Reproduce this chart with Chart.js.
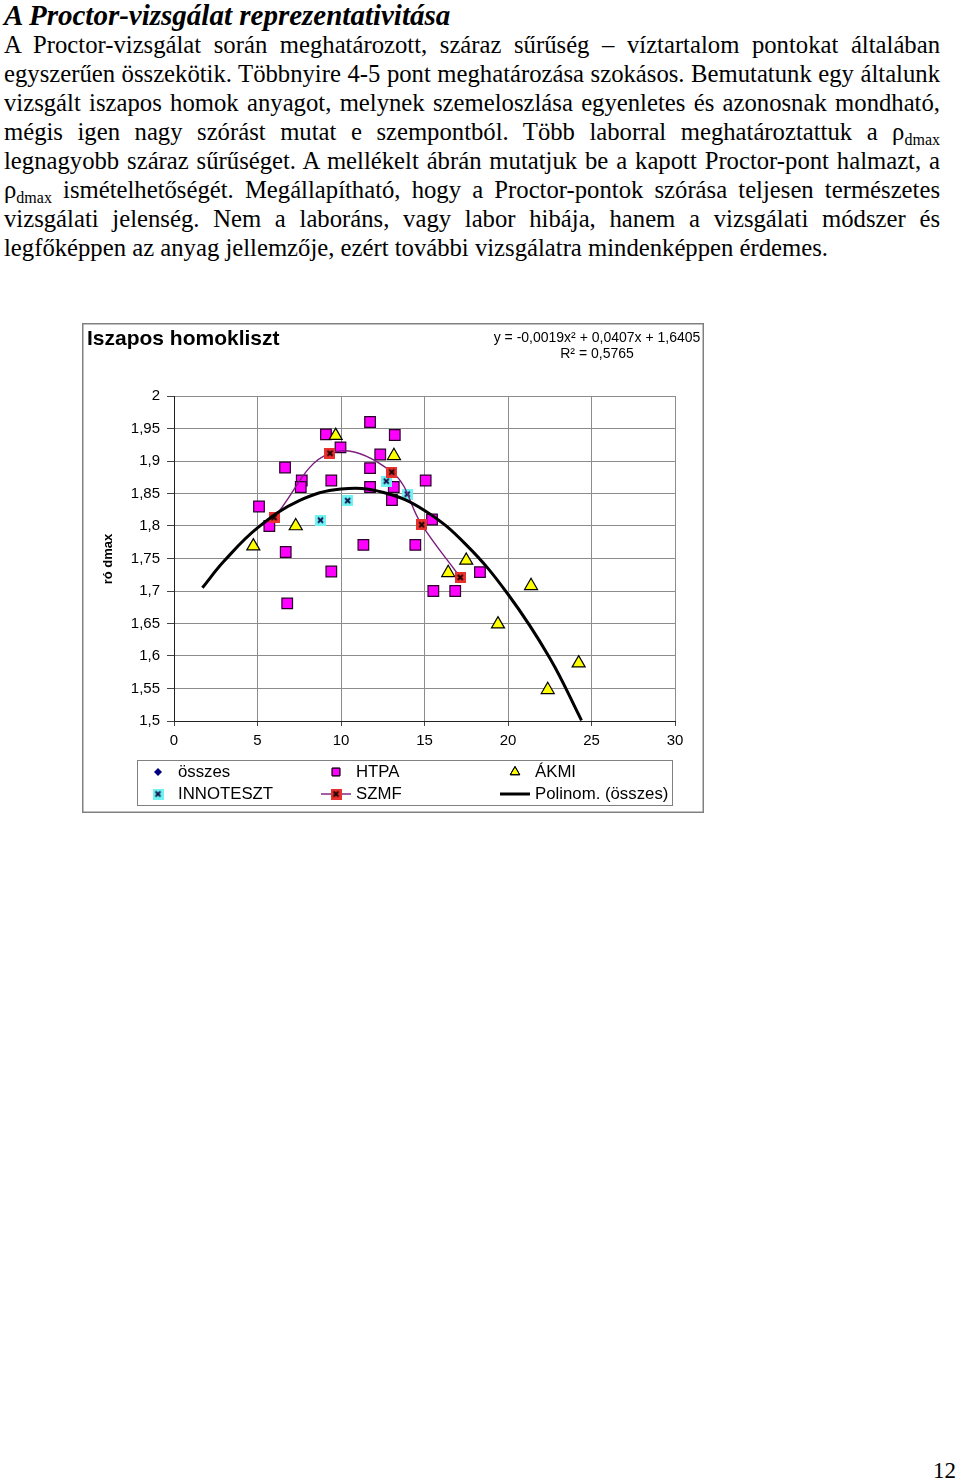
<!DOCTYPE html>
<html>
<head>
<meta charset="utf-8">
<script src="https://cdn.jsdelivr.net/npm/chart.js@4"></script>
<style>
  body { margin: 0; width: 960px; height: 1480px; position: relative; background: #fff; overflow: hidden;
         font-family: "Liberation Serif", "Times New Roman", serif; color: #000; }
  .head { position: absolute; left: 4px; top: 1px; font: italic bold 29px/28px "Liberation Serif", serif; white-space: nowrap; }
  .para { position: absolute; left: 4px; top: 30px; width: 936px; font-size: 24.7px; line-height: 29px; }
  .para div { height: 29px; text-align: justify; text-align-last: justify; white-space: nowrap; }
  .para div.last { text-align-last: left; }
  .sub { font-size: 16px; line-height: 0; position: relative; top: 5px; }
  #box { position: absolute; left: 82px; top: 323px; }
  .page { position: absolute; left: 933px; top: 1456px; font-size: 23px; line-height: 29px; }
</style>
</head>
<body>
<div class="head">A Proctor-vizsgálat reprezentativitása</div>
<div class="para">
  <div>A Proctor-vizsgálat során meghatározott, száraz sűrűség – víztartalom pontokat általában</div>
  <div>egyszerűen összekötik. Többnyire 4-5 pont meghatározása szokásos. Bemutatunk egy általunk</div>
  <div>vizsgált iszapos homok anyagot, melynek szemeloszlása egyenletes és azonosnak mondható,</div>
  <div>mégis igen nagy szórást mutat e szempontból. Több laborral meghatároztattuk a ρ<span class="sub">dmax</span></div>
  <div>legnagyobb száraz sűrűséget. A mellékelt ábrán mutatjuk be a kapott Proctor-pont halmazt, a</div>
  <div>ρ<span class="sub">dmax</span> ismételhetőségét. Megállapítható, hogy a Proctor-pontok szórása teljesen természetes</div>
  <div>vizsgálati jelenség. Nem a laboráns, vagy labor hibája, hanem a vizsgálati módszer és</div>
  <div class="last">legfőképpen az anyag jellemzője, ezért további vizsgálatra mindenképpen érdemes.</div>
</div>
<canvas id="box" width="622" height="490"></canvas>
<div class="page">12</div>

<script>
// tick labels
var xTickLabels = ['0', '5', '10', '15', '20', '25', '30'];
var yTickLabels = ['1,5', '1,55', '1,6', '1,65', '1,7', '1,75', '1,8', '1,85', '1,9', '1,95', '2'];

// HTPA (magenta squares)
var htpaX = [11.74, 9.10, 13.22, 9.97, 12.35, 6.65, 11.74, 7.65, 7.59, 9.42, 15.07, 11.74, 13.16,
             13.05, 5.09, 15.45, 5.71, 11.34, 14.45, 6.69, 18.32, 9.42, 15.53, 16.84, 6.78];
var htpaY = [1.960, 1.941, 1.940, 1.921, 1.910, 1.890, 1.889, 1.870, 1.860, 1.870, 1.870, 1.860, 1.860,
             1.840, 1.830, 1.810, 1.800, 1.771, 1.771, 1.760, 1.729, 1.730, 1.700, 1.700, 1.681];

// ÁKMI (yellow triangles)
var akmiX = [9.68, 13.17, 7.29, 4.75, 17.50, 16.42, 21.38, 19.40, 24.23, 22.38];
var akmiY = [1.939, 1.908, 1.800, 1.769, 1.747, 1.728, 1.708, 1.649, 1.589, 1.548];

// INNOTESZT (cyan)
var innoX = [8.77, 10.40, 12.71, 13.97];
var innoY = [1.809, 1.839, 1.869, 1.849];

// SZMF (red, connected)
var szmfX = [5.99, 9.34, 13.04, 14.83, 17.14];
var szmfY = [1.813, 1.912, 1.883, 1.802, 1.721];

// Polinom. (összes) trendline
var trendX = [1.7, 3, 5, 7.5, 10, 12.5, 15, 17.5, 20, 22.5, 24.4];
var trendY = [1.705, 1.746, 1.797, 1.839, 1.857, 1.852, 1.824, 1.771, 1.695, 1.597, 1.501];

// összes: all points, drawn underneath the lab series (not visible in the picture)
var osszesX = [];
var osszesY = [];

function pts(xs, ys) {
  return xs.map(function(x, i) { return { x: x, y: ys[i] }; });
}

function boxMarker(fill, stroke, cross, size) {
  var c = document.createElement('canvas');
  c.width = size; c.height = size;
  var g = c.getContext('2d');
  g.fillStyle = fill;
  g.fillRect(0, 0, size, size);
  if (stroke) { g.strokeStyle = stroke; g.lineWidth = 1; g.strokeRect(0.5, 0.5, size - 1, size - 1); }
  if (cross) {
    g.strokeStyle = cross; g.lineWidth = 1.8;
    g.beginPath();
    g.moveTo(3, 3); g.lineTo(size - 3, size - 3);
    g.moveTo(size - 3, 3); g.lineTo(3, size - 3);
    g.stroke();
  }
  return c;
}

var szmfMarker = boxMarker('#e8312f', null, '#1a0000', 11);
var innoMarker = boxMarker('#6ff3f3', null, '#10104a', 11);

// titles, equation, legend and frame
var decorPlugin = {
  id: 'decor',
  afterDraw: function(chart) {
    var c = chart.ctx;
    c.save();
    c.strokeStyle = '#808080';
    c.lineWidth = 1.5;
    c.strokeRect(0.75, 0.75, chart.width - 1.5, chart.height - 1.5);

    c.fillStyle = '#000';
    c.textBaseline = 'middle';
    c.textAlign = 'left';
    c.font = 'bold 21px "Liberation Sans", Arial, sans-serif';
    c.fillText('Iszapos homokliszt', 5, 16);

    c.textAlign = 'center';
    c.font = '14px "Liberation Sans", Arial, sans-serif';
    c.fillText('y = -0,0019x² + 0,0407x + 1,6405', 515, 15);
    c.fillText('R² = 0,5765', 515, 31);

    c.save();
    c.translate(26, 236);
    c.rotate(-Math.PI / 2);
    c.font = 'bold 13px "Liberation Sans", Arial, sans-serif';
    c.fillText('ró dmax', 0, 0);
    c.restore();

    // legend
    c.strokeStyle = '#808080';
    c.lineWidth = 1;
    c.strokeRect(55.5, 437.5, 535, 45);
    c.textAlign = 'left';
    c.font = '16.8px "Liberation Sans", Arial, sans-serif';
    var cols = [76, 254, 433], rows = [449, 471];
    var items = [
      { text: 'összes', ds: 5, col: 0, row: 0 },
      { text: 'HTPA', ds: 1, col: 1, row: 0 },
      { text: 'ÁKMI', ds: 2, col: 2, row: 0 },
      { text: 'INNOTESZT', ds: 3, col: 0, row: 1 },
      { text: 'SZMF', ds: 4, col: 1, row: 1 },
      { text: 'Polinom. (összes)', ds: 0, col: 2, row: 1 }
    ];
    items.forEach(function(it) {
      var ds = chart.data.datasets[it.ds];
      var x = cols[it.col], y = rows[it.row];
      if (ds.showLine) {
        c.strokeStyle = ds.borderColor;
        c.lineWidth = ds.borderWidth;
        c.beginPath(); c.moveTo(x - 15, y); c.lineTo(x + 15, y); c.stroke();
      }
      if (ds.pointRadius > 0) {
        c.fillStyle = ds.pointBackgroundColor || ds.backgroundColor;
        c.strokeStyle = ds.pointBorderColor || ds.borderColor;
        Chart.helpers.drawPoint(c, {
          pointStyle: ds.pointStyle,
          radius: it.ds === 5 ? 4 : 5.5,
          rotation: 0,
          borderWidth: ds.pointBorderWidth || 0
        }, x, y);
        if (ds.pointBorderWidth) c.stroke();
      }
      c.fillStyle = '#000';
      c.fillText(it.text, x + 20, y);
    });
    c.restore();
  }
};

var ctx = document.getElementById('box').getContext('2d');
var proctorChart = new Chart(ctx, {
  type: 'scatter',
  data: {
    datasets: [
      {
        label: 'Polinom. (összes)',
        data: pts(trendX, trendY),
        showLine: true, tension: 0.4,
        borderColor: '#000', borderWidth: 3,
        pointRadius: 0, order: 0
      },
      {
        label: 'HTPA',
        data: pts(htpaX, htpaY),
        pointStyle: 'rect', pointRadius: 7.5,
        pointBackgroundColor: '#ff00ff', backgroundColor: '#ff00ff',
        pointBorderColor: '#2a002a', borderColor: '#2a002a', pointBorderWidth: 1.2,
        order: 4
      },
      {
        label: 'ÁKMI',
        data: pts(akmiX, akmiY),
        pointStyle: 'triangle', pointRadius: 7.5,
        pointBackgroundColor: '#ffff00', backgroundColor: '#ffff00',
        pointBorderColor: '#000', borderColor: '#000', pointBorderWidth: 1.2,
        order: 3
      },
      {
        label: 'INNOTESZT',
        data: pts(innoX, innoY),
        pointStyle: innoMarker, pointRadius: 6,
        order: 2
      },
      {
        label: 'SZMF',
        data: pts(szmfX, szmfY),
        showLine: true, tension: 0.4,
        borderColor: '#7d1b7d', borderWidth: 1.4,
        pointStyle: szmfMarker, pointRadius: 6,
        order: 1
      },
      {
        label: 'összes',
        data: pts(osszesX, osszesY),
        pointStyle: 'rectRot', pointRadius: 4,
        pointBackgroundColor: '#000080', backgroundColor: '#000080',
        pointBorderColor: '#000080', borderColor: '#000080',
        order: 5
      }
    ]
  },
  options: {
    responsive: false,
    animation: false,
    layout: { padding: { top: 73, right: 29, left: 0, bottom: 0 } },
    plugins: { legend: { display: false }, tooltip: { enabled: false }, title: { display: false } },
    scales: {
      x: {
        type: 'linear', min: 0, max: 30,
        ticks: {
          stepSize: 5, padding: 6, maxRotation: 0, color: '#000',
          font: { family: '"Liberation Sans", Arial, sans-serif', size: 15 },
          callback: function(v, i) { return xTickLabels[i]; }
        },
        grid: { color: '#8c8c8c', tickLength: 5, tickColor: '#444' },
        border: { color: '#222', width: 1 },
        afterFit: function(s) { s.height = 92; }
      },
      y: {
        min: 1.5, max: 2,
        ticks: {
          stepSize: 0.05, padding: 7, color: '#000',
          font: { family: '"Liberation Sans", Arial, sans-serif', size: 15 },
          callback: function(v, i) { return yTickLabels[i]; }
        },
        grid: { color: '#8c8c8c', tickLength: 7, tickColor: '#444' },
        border: { color: '#222', width: 1 },
        afterFit: function(s) { s.width = 92; }
      }
    }
  },
  plugins: [decorPlugin]
});
</script>
</body>
</html>
